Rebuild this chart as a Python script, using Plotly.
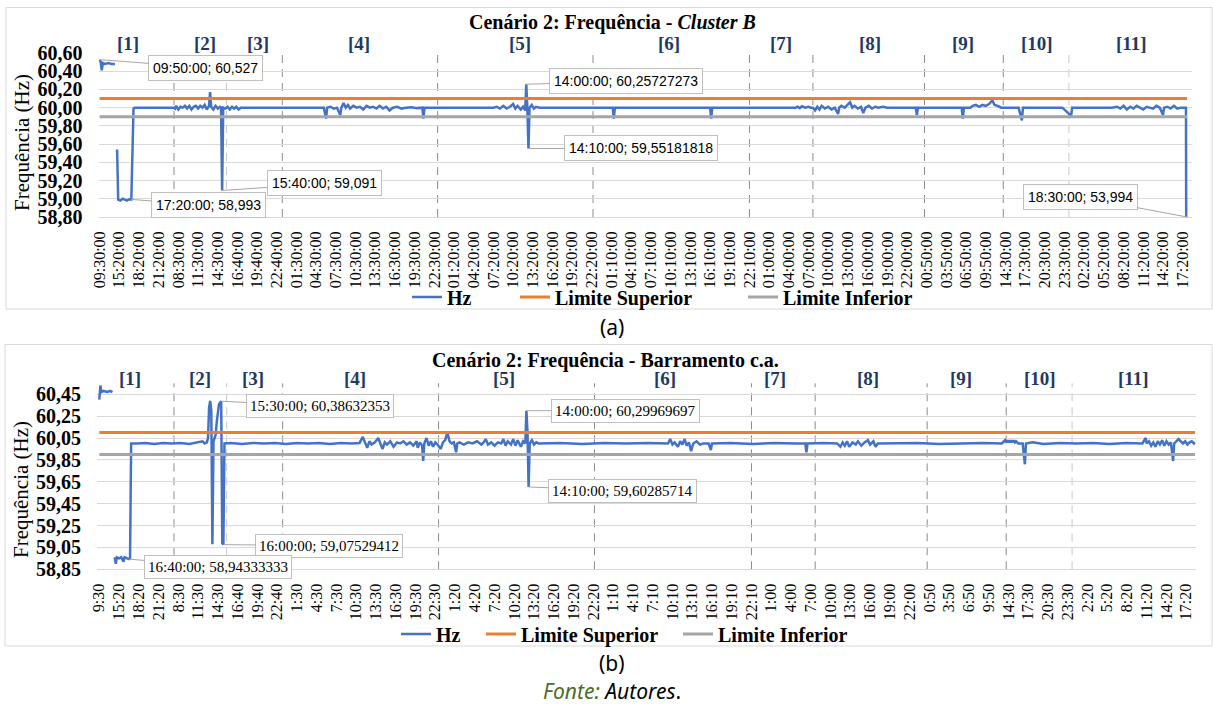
import plotly.graph_objects as go

# ---------------- data ----------------
tick_labels_a = ["09:30:00", "15:20:00", "18:20:00", "21:20:00", "08:30:00", "11:30:00", "14:30:00",
                 "16:40:00", "19:40:00", "22:40:00", "01:30:00", "04:30:00", "07:30:00", "10:30:00",
                 "13:30:00", "16:30:00", "19:30:00", "22:30:00", "01:20:00", "04:20:00", "07:20:00",
                 "10:20:00", "13:20:00", "16:20:00", "19:20:00", "22:20:00", "01:10:00", "04:10:00",
                 "07:10:00", "10:10:00", "13:10:00", "16:10:00", "19:10:00", "22:10:00", "01:00:00",
                 "04:00:00", "07:00:00", "10:00:00", "13:00:00", "16:00:00", "19:00:00", "22:00:00",
                 "00:50:00", "03:50:00", "06:50:00", "09:50:00", "14:30:00", "17:30:00", "20:30:00",
                 "23:30:00", "02:20:00", "05:20:00", "08:20:00", "11:20:00", "14:20:00", "17:20:00"]
tick_labels_b = ["9:30", "15:20", "18:20", "21:20", "8:30", "11:30", "14:30", "16:40", "19:40", "22:40",
                 "1:30", "4:30", "7:30", "10:30", "13:30", "16:30", "19:30", "22:30", "1:20", "4:20",
                 "7:20", "10:20", "13:20", "16:20", "19:20", "22:20", "1:10", "4:10", "7:10", "10:10",
                 "13:10", "16:10", "19:10", "22:10", "1:00", "4:00", "7:00", "10:00", "13:00", "16:00",
                 "19:00", "22:00", "0:50", "3:50", "6:50", "9:50", "14:30", "17:30", "20:30", "23:30",
                 "2:20", "5:20", "8:20", "11:20", "14:20", "17:20"]
tick_step = 18  # one label every 18 samples (10-min samples)

# Cluster B frequency (sample index, Hz)
hz_a_idx = [0, 1, 2, 3, 5, 8, 11, 14, 15,
            16, 17, 19, 21, 23, 25, 27, 29, 31, 32, 40, 50, 60, 68,
            69, 70, 72, 74, 76, 78, 80, 82, 84, 86, 88, 90, 92, 94, 96, 98, 100, 101, 102, 104, 106, 108,
            110, 111, 112, 113, 115, 117, 119, 121, 123, 125, 127, 129, 131, 150, 170, 190, 205,
            207, 208, 211, 214, 217, 220, 221, 223, 225, 227, 229, 232, 235, 238, 241, 244, 247, 250,
            253, 256, 259, 262, 265, 268, 272, 276, 280, 285, 290, 295, 296, 297, 300, 310, 330, 350,
            360, 363, 366, 369, 372, 375, 378, 380, 382, 385, 387, 389, 390, 391, 392, 393, 395, 397,
            399, 402, 420, 440, 460, 469, 470, 471, 480, 500, 520, 540, 550, 558, 559, 560, 580, 600,
            620, 636, 638, 640, 642, 645, 648, 650,
            652, 654, 656, 658, 660, 663, 666, 669, 672, 675, 676, 678, 681, 684, 686, 688, 690, 693,
            696, 698, 700, 703, 706, 709, 712, 716, 720, 735, 746, 747, 748, 760, 775, 788, 789, 790,
            796, 798, 801, 804, 807, 810, 813, 816, 818, 821, 824, 830, 840, 843, 844, 850, 865, 880,
            888, 889, 900, 915, 925,
            930, 933, 936, 939, 942, 945, 948, 951, 954, 957, 960, 963, 966, 969, 972, 973, 976, 979,
            982, 985, 988, 991, 993, 994]
hz_a_val = [60.527, 60.50, 60.41, 60.49, 60.48, 60.49, 60.48, 60.48, None,
            59.54, 58.99, 58.98, 59.00, 58.99, 58.98, 58.995, 58.993, 59.99, 60.0, 60.0, 60.0, 60.005, 60.0,
            59.99, 60.02, 59.98, 60.01, 60.0, 60.02, 59.99, 60.02, 59.98, 60.01, 60.02, 59.99, 60.02, 60.0,
            60.03, 59.98, 60.02, 60.17, 60.01, 59.98, 60.02, 59.99,
            60.01, 60.0, 59.091, 60.0, 59.99, 60.01, 59.98, 60.01, 59.99, 60.01, 59.98, 60.0, 60.0, 60.0,
            60.0, 60.0, 60.0,
            59.88, 60.0, 60.01, 59.99, 60.0, 59.92, 60.0, 60.05, 60.0, 60.03, 59.99, 60.02, 60.0, 60.01,
            59.98, 60.02, 60.0, 60.01, 59.99, 60.02, 59.99, 60.01, 59.97, 60.0, 60.01, 59.99, 60.0,
            60.005, 59.995, 60.0, 59.88, 60.0, 60.0, 60.0, 60.0, 60.0,
            60.0, 60.01, 59.99, 60.02, 59.99, 60.01, 60.04, 59.99, 60.02, 59.98, 60.01, 59.97, 60.25727273,
            59.99, 59.55181818, 60.0, 60.03, 59.99, 60.01, 60.0, 60.0, 60.0, 60.0, 60.0, 59.88, 60.0,
            60.0, 60.0, 60.005, 60.0, 60.0, 60.0, 59.88, 60.0, 60.0, 60.0,
            60.0, 60.0, 60.01, 59.995, 60.015, 60.0, 60.01, 60.0,
            60.0, 59.97, 60.01, 59.98, 60.02, 59.99, 60.01, 59.98, 60.0, 59.93, 60.0, 60.02, 60.0, 60.03,
            60.06, 60.0, 60.02, 59.99, 60.01, 59.94, 60.0, 60.02, 59.99, 60.01, 60.0, 60.01, 60.0, 60.0,
            60.0, 59.92, 60.0, 60.0, 60.0, 60.0, 59.88, 60.0,
            60.0, 60.02, 60.03, 60.01, 60.03, 60.02, 60.04, 60.08, 60.03, 60.02, 60.0, 60.0, 60.0, 59.86,
            60.0, 60.0, 60.0, 60.0, 59.91, 60.0, 60.0, 60.0, 60.0,
            60.01, 59.99, 60.02, 59.98, 60.01, 59.99, 60.02, 60.0, 59.98, 60.01, 60.0, 59.99, 60.02, 60.0,
            59.92, 60.0, 60.01, 59.99, 60.02, 59.99, 60.0, 60.0, 60.0, 53.994]

# Barramento c.a. frequency (sample index, Hz)
hz_b_idx = [0, 1, 2, 4, 7, 10, 12, 13,
            14, 15, 16, 18, 20, 22, 23, 25, 27, 28, 29, 35, 42, 50, 58, 66, 74, 82, 90, 94, 96, 98,
            99, 100, 101, 102, 103, 104, 105, 106, 107, 108, 109, 110, 111, 112, 113, 114, 120, 130,
            140, 150, 160, 170, 180, 190, 200, 210, 220, 230, 237,
            240, 242, 244, 246, 248, 251, 254, 256, 258, 260, 262, 265, 268, 271, 274, 277, 280, 283,
            286, 289, 290, 292, 294, 295, 296, 298, 300, 302, 304, 306, 308, 311, 313, 315, 317, 319,
            321, 323, 325, 326, 328,
            332, 336, 340, 344, 348, 350, 352, 354, 357, 360, 363, 366, 368, 370, 372, 375, 377, 379,
            381, 384, 386, 388, 389, 390, 391, 392, 394, 396, 398, 400, 420, 440, 460, 480, 500, 515,
            518, 520, 522, 524, 527, 529, 531, 533, 535, 537, 539, 541, 544, 547, 550, 555, 557, 558,
            575, 595, 615, 635, 643, 644, 645, 660, 672,
            675, 677, 679, 681, 683, 686, 689, 691, 694, 697, 700, 702, 705, 707, 709, 725, 745, 765,
            785, 805, 822,
            825, 826, 827, 828, 829, 830, 831, 832, 833, 834, 835, 837, 841, 843, 844, 850, 860, 875,
            890, 905, 920, 935, 945,
            950, 953, 954, 956, 958, 960, 962, 964, 966, 968, 970, 972, 974, 976, 978, 979, 981, 983,
            985, 987, 989, 991, 993, 995, 997, 998]
hz_b_val = [60.40, 60.53, 60.47, 60.48, 60.47, 60.48, 60.47, None,
            58.96, 58.90, 58.96, 58.95, 58.96, 58.92, 58.96, 58.95, 58.94333333, 58.95, 60.0, 60.0,
            60.005, 59.995, 60.005, 60.0, 60.005, 59.995, 60.01, 60.02, 60.0, 60.01,
            60.05, 60.33, 60.39, 60.30, 59.08, 60.02, 60.05, 60.08, 60.2, 60.30, 60.36, 60.37,
            60.38632353, 59.09, 59.07529412, 60.0, 60.005, 59.995,
            60.005, 60.0, 60.005, 59.995, 60.005, 60.0, 60.005, 59.995, 60.005, 60.0, 60.005,
            60.06, 60.0, 59.96, 60.02, 59.99, 60.01, 60.05, 60.0, 59.95, 60.01, 59.99, 60.02, 59.97,
            60.01, 60.0, 60.02, 59.99, 60.01, 59.98, 60.02, 59.96, 60.01, 59.98, 59.84, 60.0, 60.05,
            59.98, 60.02, 59.97, 60.01, 59.99, 59.95, 60.01, 60.03, 60.10, 60.02, 60.0, 60.01, 59.92,
            60.0, 60.01,
            59.99, 60.01, 60.0, 60.02, 59.99, 60.01, 60.04, 59.99, 60.01, 59.98, 60.01, 60.0, 60.04,
            59.98, 60.02, 59.99, 60.04, 59.98, 60.03, 59.97, 60.02, 60.0, 60.29969697, 60.1,
            59.60285714, 60.0, 60.03, 59.99, 60.01, 60.0, 60.005, 59.995, 60.005, 60.0, 60.005, 60.0,
            60.0, 60.04, 59.99, 60.01, 59.97, 60.02, 59.99, 60.04, 59.98, 60.01, 59.93, 60.0, 60.02,
            59.99, 60.0, 60.0, 59.94, 60.0,
            60.005, 59.995, 60.005, 60.0, 60.0, 59.92, 60.0, 60.005, 60.0,
            59.97, 60.01, 59.98, 60.02, 59.97, 60.01, 59.99, 60.02, 59.98, 60.01, 60.03, 59.99, 60.02,
            59.97, 60.0, 60.0, 60.005, 59.995, 60.0, 60.005, 60.0,
            60.03, 60.01, 60.03, 60.01, 60.03, 60.01, 60.03, 60.01, 60.03, 60.01, 60.02, 60.0, 60.0,
            59.81, 60.0, 60.01, 59.995, 60.005, 60.0, 60.005, 59.995, 60.005, 60.0,
            60.0, 60.05, 60.0, 60.02, 59.98, 60.01, 59.97, 60.02, 59.99, 60.03, 59.98, 60.02, 59.99,
            60.01, 59.84, 60.0, 60.02, 60.04, 60.02, 60.0, 60.02, 59.99, 60.01, 60.02, 60.0, 60.01]

limite_superior = 60.10
limite_inferior = 59.90

# period boundaries (sample index) and period names
boundaries = [68, 116, 167, 309, 451, 594, 652, 754, 826, 886]
faint_boundaries = [116, 886]
region_names = ["[1]", "[2]", "[3]", "[4]", "[5]", "[6]", "[7]", "[8]", "[9]", "[10]", "[11]"]

# data callouts (sample index, text)
callouts_a_idx = [0, 29, 112, 390, 392, 994]
callouts_a_text = ["09:50:00; 60,527", "17:20:00; 58,993", "15:40:00; 59,091",
                   "14:00:00; 60,25727273", "14:10:00; 59,55181818", "18:30:00; 53,994"]
callouts_b_idx = [111, 113, 27, 389, 391]
callouts_b_text = ["15:30:00; 60,38632353", "16:00:00; 59,07529412", "16:40:00; 58,94333333",
                   "14:00:00; 60,29969697", "14:10:00; 59,60285714"]

# ---------------- layout helpers ----------------
W, H = 1213, 708
def fx(px):
    return px / W
def fy(py):
    return 1 - py / H

SERIF = "Liberation Serif"
SANS = "Noto Sans"
BLUE, ORANGE, GRAY = "#4472C4", "#ED7D31", "#A5A5A5"
NAVY = "#1F3864"

fig = go.Figure()

panels = [
    dict(idx=hz_a_idx, val=hz_a_val, xa="x", ya="y", leg="legend", lw=(63, 183)),
    dict(idx=hz_b_idx, val=hz_b_val, xa="x2", ya="y2", leg="legend2", lw=(40, 152)),
]
for p in panels:
    fig.add_trace(go.Scatter(x=p["idx"], y=p["val"], mode="lines", name="Hz",
                             line=dict(color=BLUE, width=2.5), connectgaps=False,
                             xaxis=p["xa"], yaxis=p["ya"], legend=p["leg"], legendwidth=p["lw"][0]))
    x_end = [p["idx"][0], p["idx"][-1]]
    fig.add_trace(go.Scatter(x=x_end, y=[limite_superior] * 2, mode="lines", name="Limite Superior",
                             line=dict(color=ORANGE, width=3),
                             xaxis=p["xa"], yaxis=p["ya"], legend=p["leg"], legendwidth=p["lw"][1]))
    fig.add_trace(go.Scatter(x=x_end, y=[limite_inferior] * 2, mode="lines", name="Limite Inferior",
                             line=dict(color=GRAY, width=3),
                             xaxis=p["xa"], yaxis=p["ya"], legend=p["leg"]))

# plot-area geometry (pixels)
a_left, a_right, a_top, a_bot = 98.5, 1192.0, 53.0, 217.0
b_left, b_right, b_top, b_bot = 97.0, 1195.5, 383.3, 569.3

yticks_a = [58.8 + 0.2 * k for k in range(10)]
yticks_b = [58.85 + 0.2 * k for k in range(9)]

common_x = dict(showgrid=False, zeroline=False, ticks="", tickangle=-90, automargin=False,
                tickfont=dict(family=SERIF, size=16, color="#000"), showline=True,
                linecolor="#D9D9D9", linewidth=1, ticklabelstandoff=7)
common_y = dict(showgrid=True, gridcolor="#D9D9D9", gridwidth=1, zeroline=False, ticks="", automargin=False,
                tickfont=dict(family=SERIF, size=20, color="#000", weight="bold"),
                tickformat=".2f", ticklabelstandoff=15)

fig.update_layout(
    template="none",
    width=W, height=H, margin=dict(l=0, r=0, t=0, b=0, pad=0, autoexpand=False), autosize=False,
    paper_bgcolor="white", plot_bgcolor="white", separators=",.",
    xaxis=dict(domain=[fx(a_left), fx(a_right)], range=[-1, 998.5], anchor="y",
               tickvals=[i * tick_step for i in range(len(tick_labels_a))], ticktext=tick_labels_a,
               **common_x),
    yaxis=dict(domain=[fy(a_bot), fy(a_top)], range=[58.8, 60.6], anchor="x",
               tickvals=yticks_a, **common_y),
    xaxis2=dict(domain=[fx(b_left), fx(b_right)], range=[-2.1, 998.4], anchor="y2",
                tickvals=[i * tick_step for i in range(len(tick_labels_b))], ticktext=tick_labels_b,
                **common_x),
    yaxis2=dict(domain=[fy(b_bot), fy(b_top)], range=[58.85, 60.55], anchor="x2",
                tickvals=yticks_b, **common_y),
    legend=dict(orientation="h", x=fx(407), y=fy(297), xanchor="left", yanchor="middle",
                bgcolor="rgba(0,0,0,0)", font=dict(family=SERIF, size=20, color="#000", weight="bold"),
                itemwidth=30),
    legend2=dict(orientation="h", x=fx(396), y=fy(634), xanchor="left", yanchor="middle",
                 bgcolor="rgba(0,0,0,0)", font=dict(family=SERIF, size=20, color="#000", weight="bold"),
                 itemwidth=30),
    hovermode=False,
)

shapes = []
# outer chart borders
shapes.append(dict(type="rect", xref="paper", yref="paper", x0=fx(6), x1=fx(1212), y0=fy(309), y1=fy(7.5),
                   line=dict(color="#D9D9D9", width=1), layer="below"))
shapes.append(dict(type="rect", xref="paper", yref="paper", x0=fx(5), x1=fx(1212), y0=fy(646), y1=fy(344.5),
                   line=dict(color="#D9D9D9", width=1), layer="below"))
# period separators
for xa, ya in (("x", "y"), ("x2", "y2")):
    for b in boundaries:
        faint = b in faint_boundaries
        shapes.append(dict(type="line", xref=xa, yref=ya + " domain", x0=b, x1=b, y0=0, y1=1,
                           line=dict(color="#C8C8C8" if faint else "#8C8C8C", width=1, dash="8px,6px"),
                           layer="below"))
fig.update_layout(shapes=shapes)

ann = []
def text_ann(text, x, y, font, xref="paper", textangle=0):
    return dict(text=text, xref=xref, yref="paper", x=x, y=y, showarrow=False, xanchor="center",
                yanchor="middle", textangle=textangle, font=font)

# titles
ann.append(text_ann("<b>Cenário 2: Frequência - <i>Cluster B</i></b>", fx(612), fy(23),
                    dict(family=SERIF, size=20, color="#000")))
ann.append(text_ann("<b>Cenário 2: Frequência - Barramento c.a.</b>", fx(605), fy(360),
                    dict(family=SERIF, size=20, color="#000")))
# y titles
ann.append(text_ann("Frequência (Hz)", fx(22), fy(143), dict(family=SERIF, size=21, color="#000"),
                    textangle=-90))
ann.append(text_ann("Frequência (Hz)", fx(21), fy(490), dict(family=SERIF, size=21, color="#000"),
                    textangle=-90))
# period labels
region_x_a = [26, 96, 145, 237, 384, 520, 623, 704, 789, 857, 943]
region_x_b = [28, 92, 140, 233, 369, 515, 615, 700, 785, 857, 942]
for name, xa_, xb_ in zip(region_names, region_x_a, region_x_b):
    ann.append(text_ann("<b>" + name + "</b>", xa_, fy(44), dict(family=SERIF, size=19, color=NAVY), xref="x"))
    ann.append(text_ann("<b>" + name + "</b>", xb_, fy(378), dict(family=SERIF, size=19, color=NAVY), xref="x2"))

# callouts
def value_at(idx_list, val_list, i):
    return val_list[idx_list.index(i)]

offs_a = [(106, 8), (77, 6), (102, -7), (100, -3), (113, 0), (-107, -20)]
for i, t, (ax, ay) in zip(callouts_a_idx, callouts_a_text, offs_a):
    v = max(value_at(hz_a_idx, hz_a_val, i), 58.8)
    ann.append(dict(text=t, xref="x", yref="y", x=i, y=v, ax=ax, ay=ay, showarrow=True, arrowhead=0,
                    arrowwidth=1, arrowcolor="#A6A6A6", bgcolor="white", bordercolor="#BFBFBF",
                    borderwidth=1, borderpad=4, font=dict(family="Liberation Sans", size=14, color="#000")))
offs_b = [(99, 5), (106, 1), (89, 8), (99, 0), (94, 4)]
for i, t, (ax, ay) in zip(callouts_b_idx, callouts_b_text, offs_b):
    v = value_at(hz_b_idx, hz_b_val, i)
    ann.append(dict(text=t, xref="x2", yref="y2", x=i, y=v, ax=ax, ay=ay, showarrow=True, arrowhead=0,
                    arrowwidth=1, arrowcolor="#A6A6A6", bgcolor="white", bordercolor="#BFBFBF",
                    borderwidth=1, borderpad=3, font=dict(family=SERIF, size=15, color="#000")))

# captions
ann.append(text_ann("(a)", fx(612), fy(327), dict(family=SANS, size=21, color="#000")))
ann.append(text_ann("(b)", fx(612), fy(663), dict(family=SANS, size=21, color="#000")))
ann.append(text_ann("<i><span style='color:#4A6E2A'>Fonte:</span> Autores</i>.", fx(612), fy(691),
                    dict(family=SANS, size=21, color="#000")))

fig.update_layout(annotations=ann)
fig.write_html("out.html", config={"displayModeBar": False},
               post_script="document.body.style.margin='0';document.body.style.overflow='hidden';")
